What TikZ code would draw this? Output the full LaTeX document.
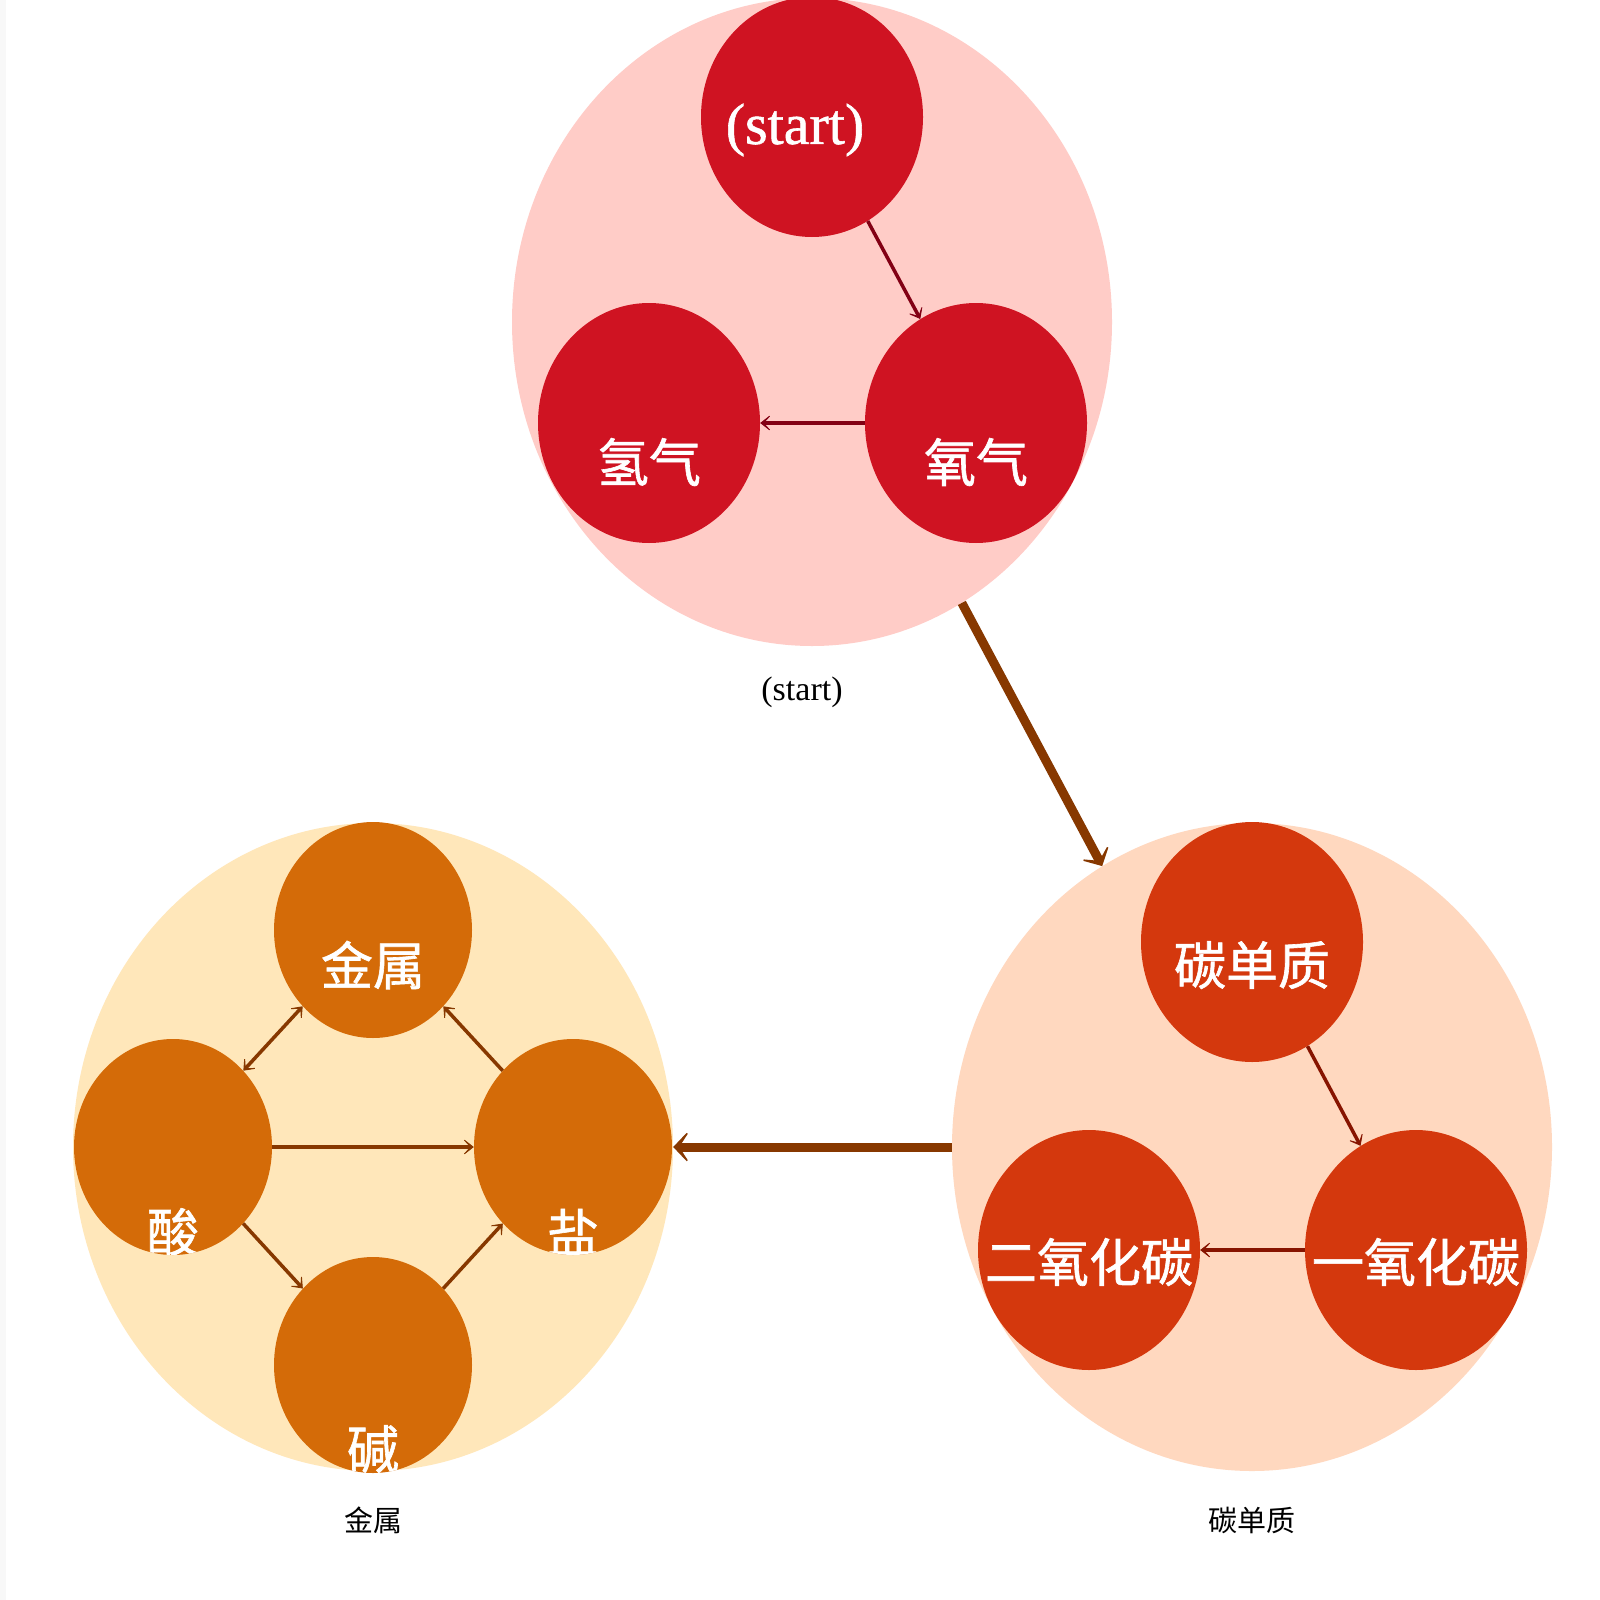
\documentclass[tikz,border=0pt]{standalone}
\usepackage{fontspec}
\setmainfont{Liberation Serif}
\newfontfamily\cjk{Noto Sans CJK SC}
\newfontfamily\cjkheavy[FakeBold=1.2]{Noto Sans CJK SC}
\newfontfamily\serifheavy[FakeBold=1]{Liberation Serif}
\usetikzlibrary{arrows.meta,shapes.geometric}
\definecolor{redOuter}{HTML}{FFCCC7}
\definecolor{redIn}{HTML}{CF1322}
\definecolor{redLine}{HTML}{820014}
\definecolor{volOuter}{HTML}{FFD8BF}
\definecolor{volIn}{HTML}{D4380D}
\definecolor{volLine}{HTML}{871400}
\definecolor{orgOuter}{HTML}{FFE7BA}
\definecolor{orgIn}{HTML}{D46B08}
\definecolor{orgLine}{HTML}{873800}
\definecolor{stripGray}{HTML}{F8F8F8}
\tikzset{
  outerblob/.style={ellipse,draw=none,inner sep=0pt,minimum width=600pt,minimum height=648pt},
  bigblob/.style={ellipse,draw=none,inner sep=0pt,minimum width=222pt,minimum height=240pt},
  smallblob/.style={ellipse,draw=none,inner sep=0pt,minimum width=198pt,minimum height=216pt},
  intext/.style={text=white,inner sep=0pt,font=\cjkheavy\fontsize{52}{54}\selectfont},
  grouplabel/.style={text=black,inner sep=0pt,font=\cjk\fontsize{29}{31}\selectfont},
  smalltip/.tip={Stealth[length=14pt,width=22pt,inset=10.5pt]},
  thinarrow/.style={line width=3.5pt,-smalltip},
  bigarrow/.style={line width=9pt,draw=orgLine,-{Stealth[length=19pt,width=40pt,inset=13pt]}}
}
\begin{document}
\begin{tikzpicture}[x=1pt,y=-1pt]
\useasboundingbox (0,0) rectangle (1600,1600);
\fill[white] (0,0) rectangle (1600,1600);
\fill[stripGray] (0,0) rectangle (6,1600);

% outer groups
\node[outerblob,fill=redOuter] (G1) at (812,322) {};
\node[outerblob,fill=volOuter] (G2) at (1252,1147) {};
\node[outerblob,fill=orgOuter] (G3) at (373,1147) {};

% top group
\node[bigblob,fill=redIn] (start) at (812,117) {};
\node[bigblob,fill=redIn] (hyd) at (649,423) {};
\node[bigblob,fill=redIn] (oxy) at (976,423) {};

% right group
\node[bigblob,fill=volIn] (csim) at (1252,942) {};
\node[bigblob,fill=volIn] (co2) at (1089,1250) {};
\node[bigblob,fill=volIn] (co) at (1416,1250) {};

% left group
\node[smallblob,fill=orgIn] (metal) at (373,930) {};
\node[smallblob,fill=orgIn] (acid) at (173,1147) {};
\node[smallblob,fill=orgIn] (salt) at (573,1147) {};
\node[smallblob,fill=orgIn] (base) at (373,1365) {};

% inner arrows
\draw[thinarrow,draw=redLine] (start) -- (oxy);
\draw[thinarrow,draw=redLine] (oxy) -- (hyd);
\draw[thinarrow,draw=volLine] (csim) -- (co);
\draw[thinarrow,draw=volLine] (co) -- (co2);
\draw[thinarrow,draw=orgLine,smalltip-smalltip] (acid) -- (metal);
\draw[thinarrow,draw=orgLine] (salt) -- (metal);
\draw[thinarrow,draw=orgLine] (acid) -- (salt);
\draw[thinarrow,draw=orgLine] (acid) -- (base);
\draw[thinarrow,draw=orgLine] (base) -- (salt);

% group arrows
\draw[bigarrow] (G1) -- (G2);
\draw[bigarrow] (G2) -- (G3);

% texts clipped by their circles
\begin{scope}\clip (812,117) ellipse [x radius=111pt,y radius=120pt];
\node[intext,font=\serifheavy\fontsize{58}{60}\selectfont] (tstart) at (795,130) {(start)};\end{scope}
\begin{scope}\clip (649,423) ellipse [x radius=111pt,y radius=120pt];
\node[intext] (thyd) at (649,462) {氢气};\end{scope}
\begin{scope}\clip (976,423) ellipse [x radius=111pt,y radius=120pt];
\node[intext] (toxy) at (976,462) {氧气};\end{scope}
\begin{scope}\clip (1252,942) ellipse [x radius=111pt,y radius=120pt];
\node[intext] (tcsim) at (1252,965) {碳单质};\end{scope}
\begin{scope}\clip (1089,1250) ellipse [x radius=111pt,y radius=120pt];
\node[intext] (tco2) at (1089,1262) {二氧化碳};\end{scope}
\begin{scope}\clip (1416,1250) ellipse [x radius=111pt,y radius=120pt];
\node[intext] (tco) at (1416,1262) {一氧化碳};\end{scope}
\begin{scope}\clip (373,930) ellipse [x radius=99pt,y radius=108pt];
\node[intext] (tmetal) at (373,965) {金属};\end{scope}
\begin{scope}\clip (173,1147) ellipse [x radius=99pt,y radius=108pt];
\node[intext] (tacid) at (173,1232) {酸};\end{scope}
\begin{scope}\clip (573,1147) ellipse [x radius=99pt,y radius=108pt];
\node[intext] (tsalt) at (573,1232) {盐};\end{scope}
\begin{scope}\clip (373,1365) ellipse [x radius=99pt,y radius=108pt];
\node[intext] (tbase) at (373,1449) {碱};\end{scope}

% group labels
\node[grouplabel,font=\rmfamily\fontsize{34}{36}\selectfont] (lstart) at (802,692) {(start)};
\node[grouplabel] (lmetal) at (373,1520) {金属};
\node[grouplabel] (lcsim) at (1252,1520) {碳单质};
\end{tikzpicture}
\end{document}
